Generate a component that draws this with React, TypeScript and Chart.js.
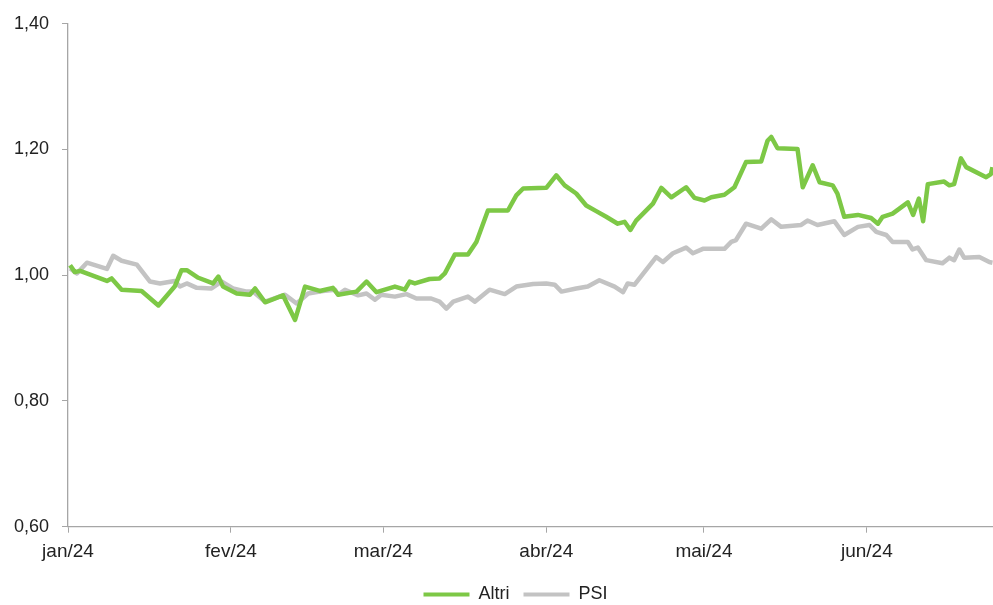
import React, { useEffect, useRef } from "react";
import { Chart, registerables } from "chart.js";

Chart.register(...registerables);

// Day offsets from 1 Jan 2024 and index values
const altriDays = [0.4, 1.3, 2.3, 7.4, 8.3, 10.2, 14.0, 17.2, 20.3, 21.6, 22.6, 24.8, 27.6, 28.6, 29.5, 32.1, 34.6, 35.6, 37.5, 40.9, 43.2, 45.1, 47.9, 50.4, 51.4, 54.9, 56.8, 58.7, 62.2, 64.1, 65.0, 66.0, 68.8, 70.7, 71.7, 73.6, 76.1, 77.7, 79.9, 83.7, 85.3, 86.6, 91.0, 92.9, 94.5, 96.7, 98.6, 100.5, 102.4, 104.6, 105.9, 107.0, 108.1, 111.3, 112.9, 114.8, 117.6, 119.2, 121.1, 122.4, 124.9, 126.8, 129.0, 131.9, 133.1, 133.8, 135.0, 138.8, 139.8, 141.7, 143.0, 145.5, 146.4, 147.7, 150.3, 152.8, 154.1, 155.0, 156.9, 159.8, 160.8, 161.9, 162.7, 163.6, 166.7, 167.7, 168.6, 169.9, 170.9, 174.7, 175.6, 175.9];
const altriValues = [1.016, 1.005, 1.007, 0.991, 0.995, 0.977, 0.975, 0.952, 0.982, 1.008, 1.008, 0.996, 0.987, 0.998, 0.982, 0.971, 0.969, 0.979, 0.957, 0.968, 0.929, 0.982, 0.975, 0.98, 0.969, 0.974, 0.99, 0.973, 0.982, 0.977, 0.99, 0.987, 0.994, 0.995, 1.003, 1.033, 1.033, 1.053, 1.103, 1.103, 1.127, 1.138, 1.139, 1.159, 1.143, 1.13, 1.111, 1.102, 1.093, 1.082, 1.085, 1.072, 1.087, 1.114, 1.139, 1.124, 1.14, 1.123, 1.119, 1.124, 1.128, 1.14, 1.18, 1.181, 1.214, 1.22, 1.202, 1.201, 1.14, 1.175, 1.148, 1.143, 1.13, 1.093, 1.096, 1.091, 1.082, 1.093, 1.098, 1.116, 1.096, 1.122, 1.086, 1.145, 1.149, 1.143, 1.145, 1.186, 1.172, 1.156, 1.161, 1.172];

const psiDays = [0.4, 1.7, 3.6, 7.4, 8.6, 10.2, 13.1, 15.6, 17.5, 20.3, 21.3, 22.6, 24.5, 27.3, 29.2, 31.4, 34.0, 35.2, 37.5, 41.3, 43.5, 45.7, 48.5, 50.8, 51.4, 52.7, 55.2, 56.8, 58.4, 59.6, 62.2, 64.4, 66.3, 69.1, 70.7, 72.0, 73.3, 76.1, 77.4, 80.2, 83.1, 85.3, 88.5, 91.0, 92.6, 93.9, 96.7, 98.9, 101.1, 104.0, 105.6, 106.5, 107.8, 111.9, 113.2, 115.1, 117.6, 118.9, 120.8, 124.9, 126.2, 127.1, 129.0, 131.9, 133.8, 135.7, 139.5, 140.7, 142.6, 145.8, 147.7, 150.3, 152.5, 153.8, 155.7, 156.9, 159.8, 160.7, 161.7, 163.3, 166.4, 167.7, 168.6, 169.6, 170.5, 173.4, 175.3, 175.9];
const psiValues = [1.011, 1.003, 1.02, 1.01, 1.031, 1.023, 1.017, 0.99, 0.987, 0.991, 0.982, 0.987, 0.98, 0.979, 0.99, 0.979, 0.974, 0.974, 0.958, 0.969, 0.955, 0.971, 0.975, 0.977, 0.969, 0.977, 0.968, 0.971, 0.961, 0.969, 0.966, 0.97, 0.963, 0.963, 0.958, 0.947, 0.958, 0.966, 0.958, 0.977, 0.97, 0.982, 0.986, 0.987, 0.985, 0.974, 0.979, 0.982, 0.992, 0.982, 0.973, 0.987, 0.985, 1.029, 1.021, 1.035, 1.044, 1.035, 1.042, 1.042, 1.053, 1.056, 1.082, 1.074, 1.089, 1.077, 1.08, 1.087, 1.08, 1.086, 1.064, 1.077, 1.08, 1.069, 1.064, 1.053, 1.053, 1.041, 1.044, 1.024, 1.019, 1.028, 1.024, 1.041, 1.028, 1.029, 1.021, 1.02];

const monthStarts = [0, 31, 60, 91, 121, 152];
const monthLabels = ["jan/24", "fev/24", "mar/24", "abr/24", "mai/24", "jun/24"];
const yTicks = [0.6, 0.8, 1.0, 1.2, 1.4];

const GREEN = "#7dc846";
const GRAY = "#c3c3c3";
const AXIS = "#a6a6a6";
const TEXT = "#222222";
const FONT = "'Liberation Sans', Arial, sans-serif";

const legendShift = {
  id: "legendShift",
  afterLayout(chart: any) {
    const lg = chart.legend;
    if (!lg) return;
    const dx = 19;
    lg.left += dx;
    lg.right += dx;
  },
};

export default function App() {
  const ref = useRef<HTMLCanvasElement | null>(null);

  useEffect(() => {
    document.body.style.margin = "0";
    const canvas = ref.current;
    if (!canvas) return;
    const chart = new Chart(canvas, {
      type: "line",
      data: {
        datasets: [
          {
            label: "Altri",
            data: altriDays.map((d, i) => ({ x: d, y: altriValues[i] })),
            borderColor: GREEN,
            backgroundColor: GREEN,
            borderWidth: 4.5,
            pointRadius: 0,
            tension: 0,
            borderJoinStyle: "round",
          },
          {
            label: "PSI",
            data: psiDays.map((d, i) => ({ x: d, y: psiValues[i] })),
            borderColor: GRAY,
            backgroundColor: GRAY,
            borderWidth: 4.5,
            pointRadius: 0,
            tension: 0,
            borderJoinStyle: "round",
          },
        ],
      },
      plugins: [legendShift],
      options: {
        animation: false,
        responsive: false,
        layout: { padding: { top: 19.5, left: 0, right: 0, bottom: -8.5 } },
        plugins: {
          tooltip: { enabled: false },
          legend: {
            position: "bottom",
            labels: {
              color: TEXT,
              font: { family: FONT, size: 18 },
              boxWidth: 46,
              boxHeight: 4,
              padding: 14,
              generateLabels: (ch: any) =>
                ch.data.datasets.map((ds: any, i: number) => ({
                  text: ds.label,
                  fillStyle: ds.borderColor,
                  strokeStyle: ds.borderColor,
                  lineWidth: 0,
                  hidden: false,
                  datasetIndex: i,
                  fontColor: TEXT,
                })),
            },
          },
        },
        scales: {
          x: {
            type: "linear",
            min: 0,
            max: 176,
            afterBuildTicks: (scale: any) => {
              scale.ticks = monthStarts.map((v) => ({ value: v }));
            },
            ticks: {
              color: TEXT,
              font: { family: FONT, size: 19 },
              padding: 8,
              maxRotation: 0,
              autoSkip: false,
              callback: (_v: any, i: number) => monthLabels[i],
            },
            grid: { drawOnChartArea: false, drawTicks: true, tickLength: 6, color: AXIS },
            border: { color: AXIS, width: 1.3 },
          },
          y: {
            min: 0.6,
            max: 1.4,
            afterBuildTicks: (scale: any) => {
              scale.ticks = yTicks.map((v) => ({ value: v }));
            },
            afterFit: (scale: any) => {
              scale.width = 68;
            },
            ticks: {
              color: TEXT,
              font: { family: FONT, size: 18 },
              padding: 13,
              callback: (v: any) => Number(v).toFixed(2).replace(".", ","),
            },
            grid: { drawOnChartArea: false, drawTicks: true, tickLength: 6, color: AXIS },
            border: { color: AXIS, width: 1.3 },
          },
        },
      },
    });
    return () => chart.destroy();
  }, []);

  return (
    <div style={{ width: 993, height: 605 }}>
      <canvas ref={ref} width={993} height={605} style={{ display: "block" }} />
    </div>
  );
}
